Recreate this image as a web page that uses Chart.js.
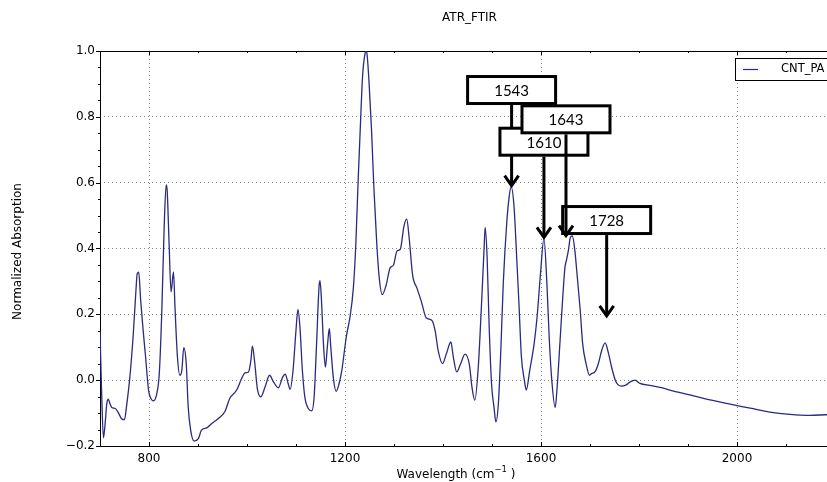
<!DOCTYPE html>
<html>
<head>
<meta charset="utf-8">
<script src="https://cdn.jsdelivr.net/npm/chart.js@4.4.1/dist/chart.umd.min.js"></script>
<style>
  html, body { margin: 0; padding: 0; background: #fff; overflow: hidden; }
  #wrap { width: 870px; height: 482px; }
</style>
</head>
<body>
<div id="wrap"><canvas id="ftir" width="870" height="482"></canvas></div>
<script>
// spectrum
const wavenumber = [
  700, 703, 707, 710, 714, 717, 720, 724, 731, 737, 744, 750, 754, 761, 768, 773, 776, 779, 783, 788,
  793, 799, 804, 809, 816, 821, 826, 831, 835, 837, 841, 845, 850, 853, 858, 863, 867, 871, 876, 880,
  885, 892, 901, 907, 918, 928, 941, 955, 965, 979, 989, 996, 1003, 1008, 1011, 1016, 1021, 1028, 1037, 1046,
  1054, 1064, 1073, 1078, 1084, 1088, 1094, 1100, 1104, 1108, 1113, 1118, 1125, 1132, 1137, 1142, 1147, 1149, 1152, 1156,
  1160, 1164, 1168, 1171, 1176, 1182, 1188, 1193, 1203, 1210, 1217, 1222, 1227, 1232, 1236, 1241, 1243, 1245, 1249, 1254,
  1259, 1265, 1270, 1276, 1284, 1292, 1299, 1306, 1313, 1320, 1326, 1331, 1338, 1347, 1356, 1366, 1377, 1384, 1390, 1399,
  1407, 1416, 1421, 1428, 1436, 1445, 1454, 1459, 1465, 1472, 1479, 1484, 1486, 1490, 1494, 1499, 1504, 1508, 1513, 1518,
  1523, 1530, 1535, 1539, 1545, 1550, 1555, 1560, 1566, 1570, 1577, 1586, 1592, 1599, 1606, 1612, 1617, 1622, 1629, 1633,
  1639, 1644, 1649, 1652, 1656, 1660, 1664, 1669, 1674, 1680, 1685, 1692, 1699, 1703, 1710, 1717, 1724, 1731, 1737, 1744,
  1753, 1764, 1773, 1782, 1792, 1802, 1822, 1843, 1863, 1904, 1945, 1986, 2027, 2067, 2108, 2149, 2181, 2200
];
const absorbance = [
  0.15, -0.02, -0.175, -0.14, -0.07, -0.058, -0.07, -0.083, -0.086, -0.098, -0.117, -0.12, -0.081, 0.01, 0.142, 0.264, 0.324, 0.328, 0.243, 0.152,
  0.071, -0.03, -0.056, -0.063, -0.04, 0.02, 0.203, 0.466, 0.593, 0.578, 0.415, 0.268, 0.329, 0.223, 0.071, 0.015, 0.03, 0.099, 0.05, -0.081,
  -0.152, -0.185, -0.177, -0.152, -0.145, -0.132, -0.117, -0.095, -0.055, -0.03, 0.005, 0.022, 0.025, 0.061, 0.103, 0.05, -0.025, -0.051, -0.02, 0.015,
  -0.005, -0.023, 0.01, 0.018, -0.01, -0.028, 0.03, 0.152, 0.215, 0.162, 0.03, -0.051, -0.086, -0.093, -0.051, 0.111, 0.284, 0.302, 0.243, 0.111,
  0.04, 0.101, 0.157, 0.101, 0.01, -0.034, -0.01, 0.025, 0.135, 0.19, 0.279, 0.41, 0.613, 0.795, 0.927, 0.993, 1.0, 0.99, 0.907, 0.765,
  0.583, 0.41, 0.309, 0.26, 0.289, 0.341, 0.35, 0.392, 0.398, 0.466, 0.489, 0.431, 0.319, 0.279, 0.238, 0.189, 0.182, 0.15, 0.091, 0.05,
  0.081, 0.116, 0.071, 0.025, 0.05, 0.079, 0.046, -0.02, -0.061, 0.04, 0.243, 0.405, 0.464, 0.375, 0.172, -0.01, -0.081, -0.127, -0.071, 0.091,
  0.294, 0.476, 0.557, 0.588, 0.527, 0.385, 0.233, 0.071, 0.0, -0.03, 0.03, 0.111, 0.192, 0.324, 0.431, 0.294, 0.122, 0.0, -0.083, -0.02,
  0.122, 0.243, 0.344, 0.365, 0.395, 0.434, 0.438, 0.395, 0.314, 0.213, 0.111, 0.05, 0.015, 0.02, 0.025, 0.05, 0.091, 0.113, 0.086, 0.04,
  -0.005, -0.018, -0.015, -0.005, 0.0, -0.01, -0.016, -0.022, -0.03, -0.045, -0.06, -0.073, -0.085, -0.097, -0.104, -0.107, -0.105, -0.104
];

const xTickValues = [800, 1200, 1600, 2000];
const yTickValues = [-0.2, 0.0, 0.2, 0.4, 0.6, 0.8, 1.0];
const yTickLabels = ['\u22120.2', '0.0', '0.2', '0.4', '0.6', '0.8', '1.0'];

// peak call-outs (drawn in this order)
const peakLabels = ['1543', '1610', '1728', '1643'];
const peakArrowX = [1540, 1606, 1734, 1651];
const peakArrowTip = [0.588, 0.431, 0.192, 0.436];
const peakBoxTop = [0.927, 0.770, 0.532, 0.838];

const lineColor = '#2a2a80';
const FONT = '"DejaVu Sans", sans-serif';

const isMajorY = (v) => yTickValues.some((t) => Math.abs(t - v) < 1e-6);

const decorations = {
  id: 'decorations',
  beforeDatasetsDraw(chart) {
    const { ctx, chartArea: a } = chart;
    ctx.save();
    ctx.strokeStyle = '#000';
    ctx.lineWidth = 1;
    ctx.strokeRect(a.left + 0.5, a.top + 0.5, a.right - a.left, a.bottom - a.top);
    ctx.restore();
  },
  afterDatasetsDraw(chart) {
    const { ctx, chartArea: a, scales } = chart;
    const xs = scales.x;
    const ys = scales.y;
    ctx.save();

    // tick marks
    ctx.strokeStyle = '#000';
    ctx.lineWidth = 1;
    ctx.beginPath();
    for (let v = 700; v <= 2200; v += 100) {
      const px = Math.round(xs.getPixelForValue(v)) + 0.5;
      const len = v % 400 === 0 ? 4 : 2;
      ctx.moveTo(px, a.bottom); ctx.lineTo(px, a.bottom - len);
      ctx.moveTo(px, a.top); ctx.lineTo(px, a.top + len);
    }
    for (let i = 0; i <= 24; i++) {
      const v = -0.2 + i * 0.05;
      const py = Math.round(ys.getPixelForValue(v)) + 0.5;
      const len = isMajorY(v) ? 4 : 2;
      ctx.moveTo(a.left, py); ctx.lineTo(a.left - len, py);
    }
    ctx.stroke();

    // title and axis labels
    ctx.fillStyle = '#000';
    ctx.font = '12px ' + FONT;
    ctx.textAlign = 'center';
    ctx.textBaseline = 'middle';
    ctx.fillText('ATR_FTIR', (a.left + a.right) / 2 + 2, 18);

    ctx.save();
    ctx.translate(18, (a.top + a.bottom) / 2 + 3);
    ctx.rotate(-Math.PI / 2);
    ctx.fillText('Normalized Absorption', 0, 0);
    ctx.restore();

    const main = 'Wavelength (cm';
    const sup = '\u22121';
    ctx.font = '12px ' + FONT;
    const w1 = ctx.measureText(main).width;
    const w3 = ctx.measureText(' )').width;
    ctx.font = '8.5px ' + FONT;
    const w2 = ctx.measureText(sup).width;
    let x0 = 456 - (w1 + w2 + w3) / 2;
    ctx.textAlign = 'left';
    ctx.font = '12px ' + FONT;
    ctx.fillText(main, x0, 475);
    ctx.font = '8.5px ' + FONT;
    ctx.fillText(sup, x0 + w1, 470);
    ctx.font = '12px ' + FONT;
    ctx.fillText(' )', x0 + w1 + w2, 475);

    // legend
    ctx.fillStyle = '#fff';
    ctx.fillRect(735, 58, 97, 22);
    ctx.strokeStyle = '#000';
    ctx.lineWidth = 1;
    ctx.strokeRect(735.5, 58.5, 97, 22);
    ctx.strokeStyle = lineColor;
    ctx.lineWidth = 1.2;
    ctx.beginPath();
    ctx.moveTo(743, 69.5); ctx.lineTo(758, 69.5);
    ctx.stroke();
    ctx.fillStyle = '#000';
    ctx.font = '11.5px ' + FONT;
    ctx.textAlign = 'left';
    ctx.fillText('CNT_PA', 781, 69.5);

    // peak call-outs
    ctx.restore();
    ctx.save();
    ctx.lineJoin = 'miter';
    peakLabels.forEach((label, i) => {
      const cx = xs.getPixelForValue(peakArrowX[i]);
      const top = ys.getPixelForValue(peakBoxTop[i]);
      const bw = 88, bh = 27;
      ctx.fillStyle = '#fff';
      ctx.fillRect(cx - bw / 2, top + 1.5, bw, bh);
      ctx.strokeStyle = '#000';
      ctx.lineWidth = 3;
      ctx.strokeRect(cx - bw / 2, top + 1.5, bw, bh);
      ctx.fillStyle = '#000';
      ctx.font = '15px Lato, "Open Sans", sans-serif';
      ctx.textAlign = 'center';
      ctx.textBaseline = 'middle';
      ctx.fillText(label, cx, top + 16);

      const tip = ys.getPixelForValue(peakArrowTip[i]);
      ctx.lineWidth = 3;
      ctx.beginPath();
      ctx.moveTo(cx, top + 1.5 + bh + 1.5);
      ctx.lineTo(cx, tip - 1);
      ctx.stroke();
      ctx.beginPath();
      ctx.moveTo(cx - 7, tip - 11);
      ctx.lineTo(cx, tip - 1);
      ctx.lineTo(cx + 7, tip - 11);
      ctx.stroke();
    });
    ctx.restore();
  }
};

new Chart(document.querySelector('#ftir'), {
  type: 'line',
  data: {
    datasets: [{
      label: 'CNT_PA',
      data: wavenumber.map((w, i) => ({ x: w, y: absorbance[i] })),
      borderColor: lineColor,
      borderWidth: 1.3,
      pointRadius: 0,
      fill: false,
      cubicInterpolationMode: 'monotone'
    }]
  },
  options: {
    responsive: false,
    animation: false,
    devicePixelRatio: 1,
    layout: { padding: { top: 51, right: 35, left: 0, bottom: 0 } },
    plugins: { legend: { display: false }, title: { display: false }, tooltip: { enabled: false } },
    scales: {
      x: {
        type: 'linear',
        min: 700,
        max: 2200,
        afterFit: (scale) => { scale.height = 36; },
        border: { display: false, dash: [1, 3] },
        grid: {
          drawTicks: false,
          lineWidth: 0.8,
          color: (c) => (c.tick && xTickValues.includes(c.tick.value) ? '#666' : 'rgba(0,0,0,0)')
        },
        ticks: {
          stepSize: 100,
          autoSkip: false,
          maxRotation: 0,
          padding: 6,
          color: '#000',
          font: { family: FONT, size: 12 },
          callback: (v) => (xTickValues.includes(v) ? String(v) : '')
        }
      },
      y: {
        min: -0.2,
        max: 1.0,
        afterFit: (scale) => { scale.width = 100; },
        border: { display: false, dash: [1, 3] },
        grid: {
          drawTicks: false,
          lineWidth: 0.8,
          color: (c) => (c.tick && isMajorY(c.tick.value) ? '#666' : 'rgba(0,0,0,0)')
        },
        ticks: {
          stepSize: 0.05,
          autoSkip: false,
          padding: 5,
          color: '#000',
          font: { family: FONT, size: 12 },
          callback: (v) => {
            const k = yTickValues.findIndex((t) => Math.abs(t - v) < 1e-6);
            return k >= 0 ? yTickLabels[k] : '';
          }
        }
      }
    }
  },
  plugins: [decorations]
});
</script>
</body>
</html>
